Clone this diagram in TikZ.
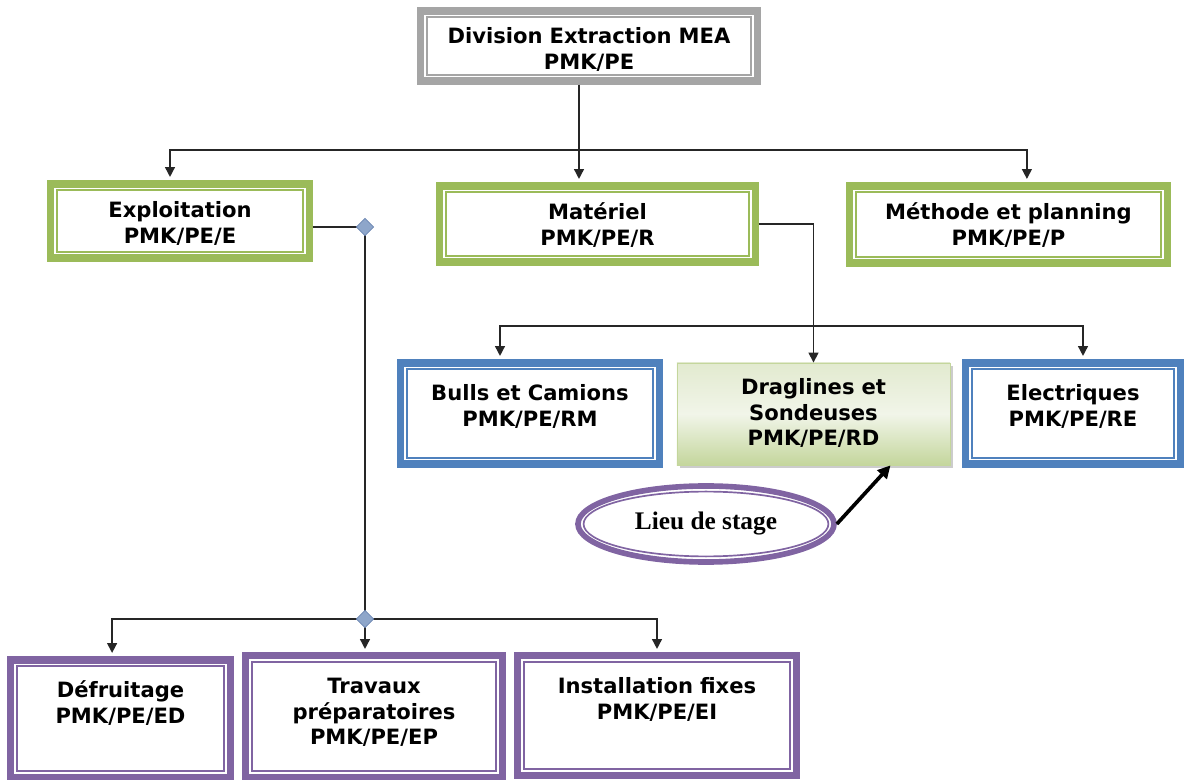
\documentclass[tikz,border=0pt]{standalone}
\usepackage{fontspec}
\usetikzlibrary{arrows.meta}
\usetikzlibrary{shapes.geometric}
\usetikzlibrary{shadows}
\newfontfamily\orgfont{DejaVu Sans}
\newfontfamily\lieufont{Liberation Serif}
\definecolor{ogray}{HTML}{A5A5A5}
\definecolor{ogreen}{HTML}{9BBB59}
\definecolor{oblue}{HTML}{4F81BD}
\definecolor{opurple}{HTML}{8064A2}
\definecolor{knotfill}{HTML}{8EA6CA}
\definecolor{knotline}{HTML}{6C87B3}
\definecolor{dragtop}{HTML}{E2EACF}
\definecolor{dragmid}{HTML}{F1F5E9}
\definecolor{dragbot}{HTML}{C4D69C}
\tikzset{
	orgtext/.style={rectangle, align=center, inner xsep=0pt, inner ysep=0.55cm, text height=0.4cm,
		font=\orgfont\bfseries\fontsize{15}{18}\selectfont},
	dims/.style 2 args={text width=#1, text depth=#2},
	dframe/.style={orgtext, draw=#1, fill=white, line width=5pt,
		path picture={\draw[#1, line width=1.4pt]
			([shift={(4.6pt,-4.6pt)}]path picture bounding box.north west) rectangle
			([shift={(-4.6pt,4.6pt)}]path picture bounding box.south east);}},
	conn/.style={draw=black!85, line width=1.1pt},
	arr/.style={conn, -{Triangle[length=7pt,width=7pt]}, shorten >=2.5pt},
	bigarr/.style={draw=black, line width=2.6pt, -{Triangle[length=9pt,width=9pt]}},
	knot/.style={diamond, draw=knotline, fill=knotfill, line width=0.6pt, inner sep=0pt, minimum size=0.44cm}
}
\begin{document}
\begin{tikzpicture}[x=0.025cm, y=-0.025cm]
	% page: 1186 x 780 px, 1px = 0.25mm, y downwards
	\useasboundingbox (0,0) rectangle (1186,780);

	% head of the division
	\node[dframe=ogray, inner ysep=0.425cm, dims={8.4cm}{0.5cm}] (div) at (589,46) {Division Extraction MEA\\PMK/PE};

	% services
	\node[dframe=ogreen, inner ysep=0.45cm, dims={6.45cm}{0.55cm}] (explo) at (180,221) {Exploitation\\PMK/PE/E};
	\node[dframe=ogreen, inner ysep=0.45cm, dims={7.875cm}{0.6cm}] (mat) at (597.5,224) {Matériel\\PMK/PE/R};
	\node[dframe=ogreen, inner ysep=0.45cm, dims={7.925cm}{0.625cm}] (meth) at (1008.5,224.5) {Méthode et planning\\PMK/PE/P};

	% material sections
	\node[dframe=oblue, dims={6.45cm}{1.025cm}] (bulls) at (530,413.5) {Bulls et Camions\\PMK/PE/RM};
	\node[orgtext, inner ysep=0.4cm, dims={6.825cm}{1.35cm}, draw=dragbot, line width=0.6pt,
		top color=dragtop, bottom color=dragbot, middle color=dragmid,
		drop shadow={shadow xshift=2pt, shadow yshift=-2pt, fill=black!40}] (drag) at (813.5,414) {Draglines et\\Sondeuses\\PMK/PE/RD};
	\node[dframe=oblue, dims={5.35cm}{1.025cm}] (elec) at (1073,413.5) {Electriques\\PMK/PE/RE};

	% exploitation sections
	\node[dframe=opurple, dims={5.475cm}{1.425cm}] (defr) at (120.5,718.5) {Défruitage\\PMK/PE/ED};
	\node[dframe=opurple, dims={6.4cm}{1.525cm}] (trav) at (374,716.5) {Travaux\\préparatoires\\PMK/PE/EP};
	\node[dframe=opurple, dims={6.95cm}{1.475cm}] (inst) at (657,715.5) {Installation fixes\\PMK/PE/EI};

	% junctions
	\coordinate (j1) at (579,150);
	\coordinate (j2) at (812,326);
	\coordinate (d1) at (365,227);
	\coordinate (d2) at (365,619);

	\draw[conn] (div.south -| j1) -- (j1);
	\draw[arr] (j1) -| ([xshift=-0.25cm]explo.north);
	\draw[arr] (j1) -- (mat.north -| j1);
	\draw[arr] (j1) -| ([xshift=0.46cm]meth.north);

	\draw[arr, shorten >=0pt] (mat.east) -| (drag.north);
	\draw[arr] (j2) -| ([xshift=-0.75cm]bulls.north);
	\draw[arr] (j2) -| ([xshift=0.25cm]elec.north);

	\draw[conn] (explo.east |- d1) -- (d1) -- (d2);
	\draw[arr] (d2) -| ([xshift=-0.21cm]defr.north);
	\draw[arr] (d2) -- (trav.north -| d2);
	\draw[arr] (d2) -| (inst.north);
	\node[knot] (k1) at (d1) {};
	\node[knot] (k2) at (d2) {};

	% internship place
	\node[ellipse, draw=opurple, fill=white, line width=4pt, minimum width=6.4cm, minimum height=1.9cm, inner sep=0pt,
		font=\lieufont\bfseries\fontsize{18}{20}\selectfont,
		path picture={\draw[opurple, line width=1.2pt] (path picture bounding box.center) ellipse [x radius=3.06cm, y radius=0.81cm];}]
		(lieu) at (706,524) {Lieu de stage};
	\draw[bigarr] (lieu.east) -- ([xshift=-1.5cm]drag.south east);
\end{tikzpicture}
\end{document}
